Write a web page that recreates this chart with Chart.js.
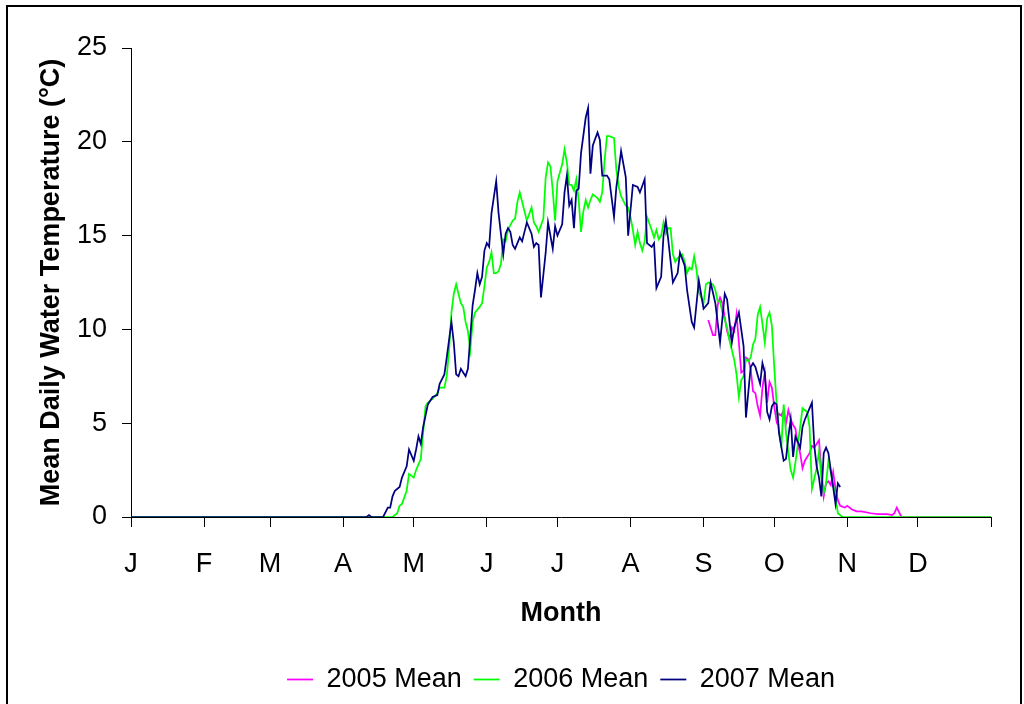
<!DOCTYPE html>
<html>
<head>
<meta charset="utf-8">
<title>Mean Daily Water Temperature</title>
<script src="https://cdn.jsdelivr.net/npm/chart.js@4/dist/chart.umd.min.js"></script>
<style>
  html, body { margin: 0; padding: 0; background: #fff; overflow: hidden; }
  #wrap { position: relative; width: 1024px; height: 704px; }
</style>
</head>
<body>
<div id="wrap"><canvas id="tempChart" width="1024" height="704"></canvas></div>
<script>
// month ticks (day of year where each month starts)
const monthStarts = [0, 31, 59, 90, 120, 151, 181, 212, 243, 273, 304, 334, 365];
const monthLabels = ['J', 'F', 'M', 'A', 'M', 'J', 'J', 'A', 'S', 'O', 'N', 'D', ''];
const yTicks = [0, 5, 10, 15, 20, 25];

// 2005 mean (day of year / temperature)
const days2005 = [245, 247, 248, 249, 250, 251, 253, 254, 255, 256, 257, 258, 259, 260, 261, 262, 263, 264, 265, 266,
  267, 268, 269, 270, 271, 272, 273, 274, 275, 276, 277, 278, 279, 280, 281, 282, 283, 284, 285, 286,
  288, 289, 290, 292, 293, 294, 295, 296, 297, 298, 299, 300, 301, 303, 304, 306, 308, 310, 314, 317,
  321, 323, 324, 325, 327, 365];
const temp2005 = [10.5, 9.7, 9.7, 11.3, 11.7, 11.4, 9.9, 9.5, 10.1, 9.9, 10.8, 9.3, 7.7, 7.8, 8.5, 8.4, 7.9, 6.7, 6.6, 5.9,
  5.4, 6.9, 7.7, 6.1, 7.2, 6.9, 5.9, 5.1, 5.5, 5.4, 5.7, 5.0, 5.7, 5.2, 4.9, 4.7, 3.9, 3.4, 2.6, 3.0,
  3.4, 3.8, 3.7, 4.1, 2.5, 1.1, 1.8, 1.9, 1.7, 2.4, 1.5, 0.9, 0.6, 0.5, 0.6, 0.4, 0.3, 0.3, 0.2, 0.15,
  0.15, 0.1, 0.2, 0.5, 0, 0];

// 2006 mean
const days2006 = [0, 111, 113, 114, 115, 117, 118, 120, 121, 123, 124, 125, 126, 127, 128, 130, 131, 132, 133, 134,
  135, 136, 137, 138, 140, 141, 142, 143, 144, 145, 146, 148, 149, 150, 151, 152, 153, 154, 155, 156,
  157, 158, 159, 160, 162, 163, 164, 165, 166, 167, 168, 170, 171, 172, 173, 175, 176, 177, 178, 179,
  180, 181, 183, 184, 185, 186, 187, 188, 189, 190, 191, 192, 193, 194, 195, 196, 198, 199, 200, 201,
  202, 203, 205, 206, 207, 208, 210, 211, 212, 213, 214, 215, 216, 217, 218, 219, 221, 222, 223, 224,
  225, 226, 227, 228, 229, 230, 231, 232, 234, 235, 236, 237, 238, 239, 240, 241, 243, 244, 245, 247,
  248, 249, 250, 251, 253, 254, 256, 257, 258, 259, 260, 261, 262, 263, 264, 265, 266, 267, 268, 269,
  270, 271, 272, 273, 274, 275, 276, 277, 278, 279, 280, 281, 282, 284, 285, 287, 288, 289, 291, 292,
  293, 294, 295, 296, 298, 299, 300, 302, 365];
const temp2006 = [0, 0, 0.2, 0.6, 0.7, 1.4, 2.3, 2.1, 2.5, 3.1, 4.5, 5.9, 6.1, 6.2, 6.3, 6.6, 6.9, 6.9, 6.9, 7.5,
  8.9, 10.9, 11.9, 12.4, 11.4, 11.2, 10.4, 9.9, 8.9, 10.4, 10.9, 11.2, 11.4, 12.3, 13.3, 13.6, 14.1, 13.0, 13.0, 13.1,
  13.5, 14.8, 14.7, 15.3, 15.8, 15.9, 16.8, 17.3, 16.8, 16.3, 15.8, 16.5, 15.7, 15.5, 15.2, 15.9, 18.1, 18.9, 18.7, 17.4,
  15.8, 17.9, 18.8, 19.6, 18.9, 17.7, 17.7, 17.4, 18.0, 16.9, 15.2, 16.3, 16.9, 16.5, 16.9, 17.2, 17.0, 16.8, 17.3, 19.0,
  20.3, 20.3, 20.2, 18.5, 17.6, 17.1, 16.6, 16.5, 16.0, 15.3, 14.5, 15.2, 14.6, 14.2, 14.7, 16.0, 15.3, 14.9, 15.3, 14.8,
  15.0, 15.7, 15.1, 15.4, 15.4, 14.0, 13.6, 13.8, 14.0, 13.6, 13.0, 13.3, 13.2, 13.9, 13.2, 12.0, 11.4, 12.4, 12.5, 12.4,
  12.1, 11.5, 11.5, 10.9, 10.1, 9.4, 8.4, 7.6, 6.4, 7.3, 7.5, 8.4, 8.3, 8.5, 9.2, 9.5, 10.8, 11.2, 10.3, 9.3,
  10.6, 10.9, 10.2, 8.0, 6.1, 4.7, 3.7, 6.0, 4.5, 3.4, 2.5, 2.1, 2.9, 4.8, 5.8, 5.6, 4.8, 1.5, 2.6, 3.5,
  2.1, 1.3, 1.8, 3.0, 1.7, 1.1, 0.2, 0, 0];

// 2007 mean
const days2007 = [0, 100, 101, 102, 107, 109, 110, 111, 112, 114, 115, 117, 118, 120, 121, 122, 123, 124, 126, 127,
  128, 130, 131, 133, 134, 136, 137, 138, 139, 140, 142, 143, 144, 145, 146, 147, 148, 149, 150, 151,
  152, 153, 155, 156, 158, 159, 160, 161, 162, 163, 164, 165, 166, 167, 168, 170, 171, 172, 173, 174,
  176, 177, 179, 180, 181, 183, 184, 185, 186, 187, 188, 189, 190, 191, 193, 194, 195, 196, 198, 199,
  200, 202, 203, 205, 206, 207, 208, 210, 211, 213, 215, 216, 218, 219, 221, 222, 223, 225, 226, 227,
  228, 230, 232, 233, 235, 236, 238, 239, 241, 243, 245, 246, 248, 250, 252, 253, 255, 256, 258, 260,
  261, 263, 264, 265, 267, 268, 269, 270, 271, 272, 273, 274, 275, 277, 278, 279, 280, 281, 282, 284,
  285, 286, 287, 289, 290, 291, 292, 293, 294, 295, 296, 298, 299, 300, 301];
const temp2007 = [0, 0, 0.1, 0, 0, 0.5, 0.5, 1.1, 1.4, 1.6, 2.1, 2.7, 3.6, 3.0, 3.6, 4.3, 3.9, 4.8, 6.0, 6.2,
  6.4, 6.5, 7.1, 7.6, 8.5, 10.4, 9.3, 7.6, 7.5, 7.9, 7.5, 7.9, 9.6, 11.3, 12.1, 13.0, 12.4, 12.8, 14.2, 14.6,
  14.4, 16.2, 17.9, 16.2, 14.0, 15.1, 15.4, 15.2, 14.5, 14.3, 14.6, 14.9, 14.7, 15.2, 15.7, 15.1, 14.4, 14.6, 14.5, 11.7,
  14.1, 15.7, 14.3, 15.5, 15.0, 15.6, 17.3, 18.2, 16.6, 16.9, 15.4, 17.4, 17.5, 19.4, 21.3, 21.8, 18.3, 19.8, 20.5, 20.1,
  18.2, 18.2, 18.0, 16.0, 17.6, 18.5, 19.5, 18.1, 15.0, 17.7, 17.6, 17.3, 18.0, 14.6, 14.4, 14.6, 12.2, 12.8, 15.0, 15.8,
  14.8, 12.5, 13.0, 14.1, 13.4, 12.1, 10.4, 10.1, 12.6, 11.1, 11.4, 12.5, 11.4, 9.3, 11.9, 11.6, 9.3, 10.1, 10.9, 9.1,
  5.3, 8.0, 8.2, 8.0, 7.1, 8.2, 7.7, 5.6, 5.2, 5.9, 6.1, 6.0, 4.5, 3.0, 3.1, 4.3, 5.2, 3.2, 4.3, 3.7,
  4.8, 5.2, 5.5, 6.1, 3.8, 2.7, 2.1, 1.1, 3.4, 3.7, 3.4, 1.6, 0.7, 1.8, 1.6];

function pairs(days, temps) {
    return days.map((d, i) => ({x: d, y: temps[i]}));
}

// black frame round the whole chart area
const frame = {
    id: 'frame',
    afterDraw(chart) {
        const ctx = chart.ctx;
        ctx.save();
        ctx.strokeStyle = '#000';
        ctx.lineWidth = 2;
        ctx.strokeRect(7, 6, 1014, 720);
        ctx.restore();
    }
};

const ctx = document.getElementById('tempChart').getContext('2d');
const tempChart = new Chart(ctx, {
    type: 'line',
    data: {
        datasets: [{
            label: '2005 Mean',
            data: pairs(days2005, temp2005),
            borderColor: '#FF00FF',
            backgroundColor: '#FF00FF',
            borderWidth: 1.75,
            pointRadius: 0,
            order: 3
        }, {
            label: '2006 Mean',
            data: pairs(days2006, temp2006),
            borderColor: '#00FF00',
            backgroundColor: '#00FF00',
            borderWidth: 1.75,
            pointRadius: 0,
            order: 2
        }, {
            label: '2007 Mean',
            data: pairs(days2007, temp2007),
            borderColor: '#000080',
            backgroundColor: '#000080',
            borderWidth: 1.75,
            pointRadius: 0,
            order: 1
        }]
    },
    options: {
        responsive: false,
        animation: false,
        events: [],
        layout: {padding: {top: 48, right: 33, bottom: 1, left: 0}},
        font: {family: '"Liberation Sans", Arial, sans-serif'},
        plugins: {
            tooltip: {enabled: false},
            legend: {
                position: 'bottom',
                fullSize: false,
                labels: {
                    color: '#000',
                    font: {size: 27, family: '"Liberation Sans", Arial, sans-serif'},
                    usePointStyle: true,
                    pointStyle: 'line',
                    pointStyleWidth: 26,
                    boxHeight: 27,
                    padding: 12,
                    sort: (a, b) => a.datasetIndex - b.datasetIndex
                }
            }
        },
        scales: {
            x: {
                type: 'linear',
                min: 0,
                max: 365,
                afterBuildTicks: (scale) => {
                    scale.ticks = monthStarts.map(v => ({value: v}));
                },
                afterFit: (scale) => { scale.height = 137; },
                ticks: {
                    autoSkip: false,
                    maxRotation: 0,
                    color: '#000',
                    padding: 21,
                    font: {size: 27},
                    callback: (v, i) => monthLabels[i]
                },
                grid: {drawOnChartArea: false, drawTicks: true, tickLength: 10, color: '#000'},
                border: {display: true, color: '#000', width: 1},
                title: {
                    display: true,
                    text: 'Month',
                    color: '#000',
                    font: {size: 27, weight: 'bold'},
                    padding: {top: 0, bottom: 24}
                }
            },
            y: {
                min: 0,
                max: 25,
                afterBuildTicks: (scale) => {
                    scale.ticks = yTicks.map(v => ({value: v}));
                },
                afterFit: (scale) => { scale.width = 131; },
                ticks: {
                    color: '#000',
                    padding: 15,
                    font: {size: 27}
                },
                grid: {drawOnChartArea: false, drawTicks: true, tickLength: 9, color: '#000'},
                border: {display: true, color: '#000', width: 1},
                title: {
                    display: true,
                    text: 'Mean Daily Water Temperature (°C)',
                    color: '#000',
                    font: {size: 27, weight: 'bold'},
                    padding: {top: 35, bottom: 0}
                }
            }
        }
    },
    plugins: [frame]
});
</script>
</body>
</html>
